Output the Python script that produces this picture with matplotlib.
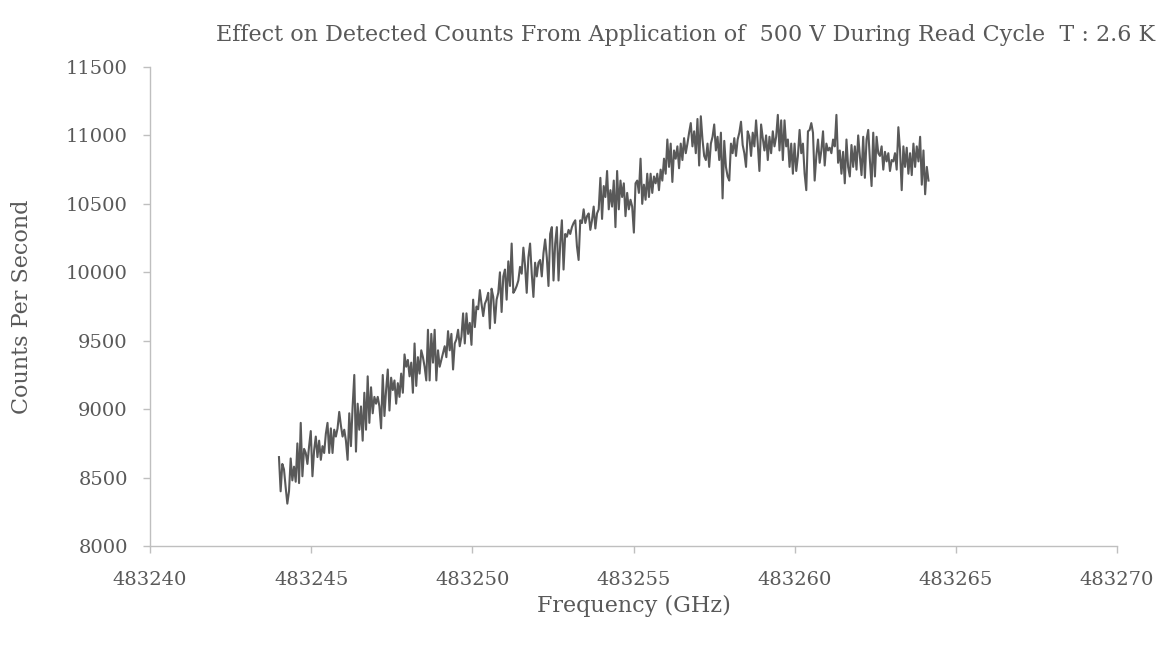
import numpy as np
import matplotlib
matplotlib.use('Agg')
import matplotlib.pyplot as plt

# scan start / stop (GHz) and counts per second read along the sweep
freq_start = 483244.0
freq_stop = 483264.15
counts = [
    8650, 8400, 8600, 8560, 8430, 8310, 8400, 8640, 8480, 8580, 8470, 8750,
    8460, 8900, 8510, 8710, 8680, 8600, 8730, 8840, 8510, 8700, 8800, 8650,
    8770, 8630, 8730, 8680, 8820, 8900, 8680, 8860, 8680, 8850, 8800, 8860,
    8980, 8880, 8800, 8850, 8770, 8630, 8970, 8730, 9020, 9250, 8690, 9040,
    8850, 9020, 8770, 9120, 8850, 9240, 8900, 9160, 8970, 9090, 9040,
    9090, 9020, 8860, 9250, 8950, 9140, 9290, 8990, 9230, 9140, 9210, 9040,
    9190, 9090, 9260, 9120, 9400, 9310, 9360, 9240, 9340, 9120, 9480, 9170,
    9380, 9260, 9430, 9380, 9310, 9210, 9580, 9210, 9550, 9340, 9580, 9210,
    9430, 9310, 9360, 9410, 9460, 9380, 9570, 9430, 9550, 9290, 9480, 9510,
    9580, 9460, 9530, 9700, 9480, 9700, 9550, 9630, 9470, 9800, 9600, 9750,
    9730, 9870, 9770,
    9680, 9770, 9800, 9850, 9590, 9880, 9820, 9630, 9800, 9850, 10000, 9710,
    9970, 10020, 9800, 10080, 9900, 10210, 9850, 9870, 9900, 9940, 10040, 9990,
    10180, 10050, 9850, 10110, 10210, 9990, 9820, 10070, 9970, 10070, 10090, 9970,
    10140, 10240, 10110, 9900, 10280, 10330, 9940, 10210, 10330, 9940, 10210, 10380,
    10020, 10280, 10260, 10310, 10280, 10330, 10360, 10380, 10190, 10090, 10380, 10360,
    10460, 10360, 10410,
    10430, 10310, 10380, 10480, 10320, 10430, 10460, 10690, 10390, 10630, 10550, 10740,
    10460, 10600, 10480, 10670, 10330, 10740, 10460, 10670, 10550, 10650, 10410, 10580,
    10460, 10530, 10480, 10290, 10650, 10670, 10580, 10830, 10500, 10640, 10530, 10720,
    10550, 10720, 10580, 10700, 10650, 10720, 10600, 10750, 10670, 10830, 10720, 10970,
    10770, 10940, 10660, 10890, 10830, 10920, 10760, 10940, 10820, 10980, 10870, 10940,
    11020, 11090, 10920,
    11030, 10870, 11120, 10780, 11140, 10970, 10850, 10820, 10940, 10770, 10940, 10990,
    11080, 10890, 10990, 10820, 11020, 10540, 10960, 10770, 10700, 10670, 10940, 10870,
    10980, 10850, 10970, 11020, 11100, 10930, 10870, 10770, 11030, 10990, 10850, 11020,
    10920, 11110, 10940, 10740, 11080, 10980, 10890, 11000, 10820, 10990, 10870, 11030,
    10920, 10990, 11150, 10890, 11110, 10820, 11110, 10920, 10970, 10770, 10940, 10720,
    10940, 10740, 10850, 11040, 10870, 10940, 10720, 10600, 11030,
    11040, 11090, 11020, 10670, 10850, 10970, 10800, 10890, 11030, 10780, 10940, 10890,
    10910, 10870, 10970, 10920, 11150, 10800, 10890, 10720, 10880, 10650, 10970, 10770,
    10700, 10930, 10770, 10920, 10750, 11000, 10850, 10710, 10990, 10690, 10970, 11040,
    10820, 10630, 11020, 10700, 10990, 10870, 10850, 10920, 10750, 10880, 10810, 10870,
    10740, 10820, 10810, 10870, 10750, 11060, 10890, 10600, 10920, 10770, 10910, 10720,
    10870, 10710, 10940, 10770, 10920, 10810, 10990, 10640, 10890, 10570, 10770, 10670,
]
freqs = np.linspace(freq_start, freq_stop, len(counts))

x_ticks = [483240, 483245, 483250, 483255, 483260, 483265, 483270]
y_ticks = [8000, 8500, 9000, 9500, 10000, 10500, 11000, 11500]

text_col = '#595959'
axis_col = '#bfbfbf'
plt.rcParams['font.family'] = ['DejaVu Serif']

fig = plt.figure(figsize=(11.63, 6.47), dpi=100)
ax = fig.add_axes([0.129, 0.156, 0.8315, 0.7405])

ax.plot(freqs, counts, color='#595959', lw=1.5)

ax.set_xlim(483240, 483270)
ax.set_ylim(8000, 11500)
ax.set_xticks(x_ticks)
ax.set_yticks(y_ticks)
ax.set_xticklabels([str(t) for t in x_ticks])
ax.set_yticklabels([str(t) for t in y_ticks])

for side in ['top', 'right']:
    ax.spines[side].set_visible(False)
for side in ['left', 'bottom']:
    ax.spines[side].set_color(axis_col)
    ax.spines[side].set_linewidth(1.0)
ax.tick_params(axis='both', direction='out', length=5, width=1.0,
               color=axis_col, labelcolor=text_col, labelsize=14)
ax.tick_params(axis='x', pad=13)
ax.tick_params(axis='y', pad=11)

ax.set_xlabel('Frequency (GHz)', fontsize=16, color=text_col, labelpad=4)
ax.set_ylabel('Counts Per Second', fontsize=16, color=text_col, labelpad=24)

fig.text(0.993, 0.946,
         'Effect on Detected Counts From Application of  500 V During Read Cycle  T : 2.6 K',
         ha='right', va='center', fontsize=16, color=text_col)

fig.savefig('out.png', dpi=100)
